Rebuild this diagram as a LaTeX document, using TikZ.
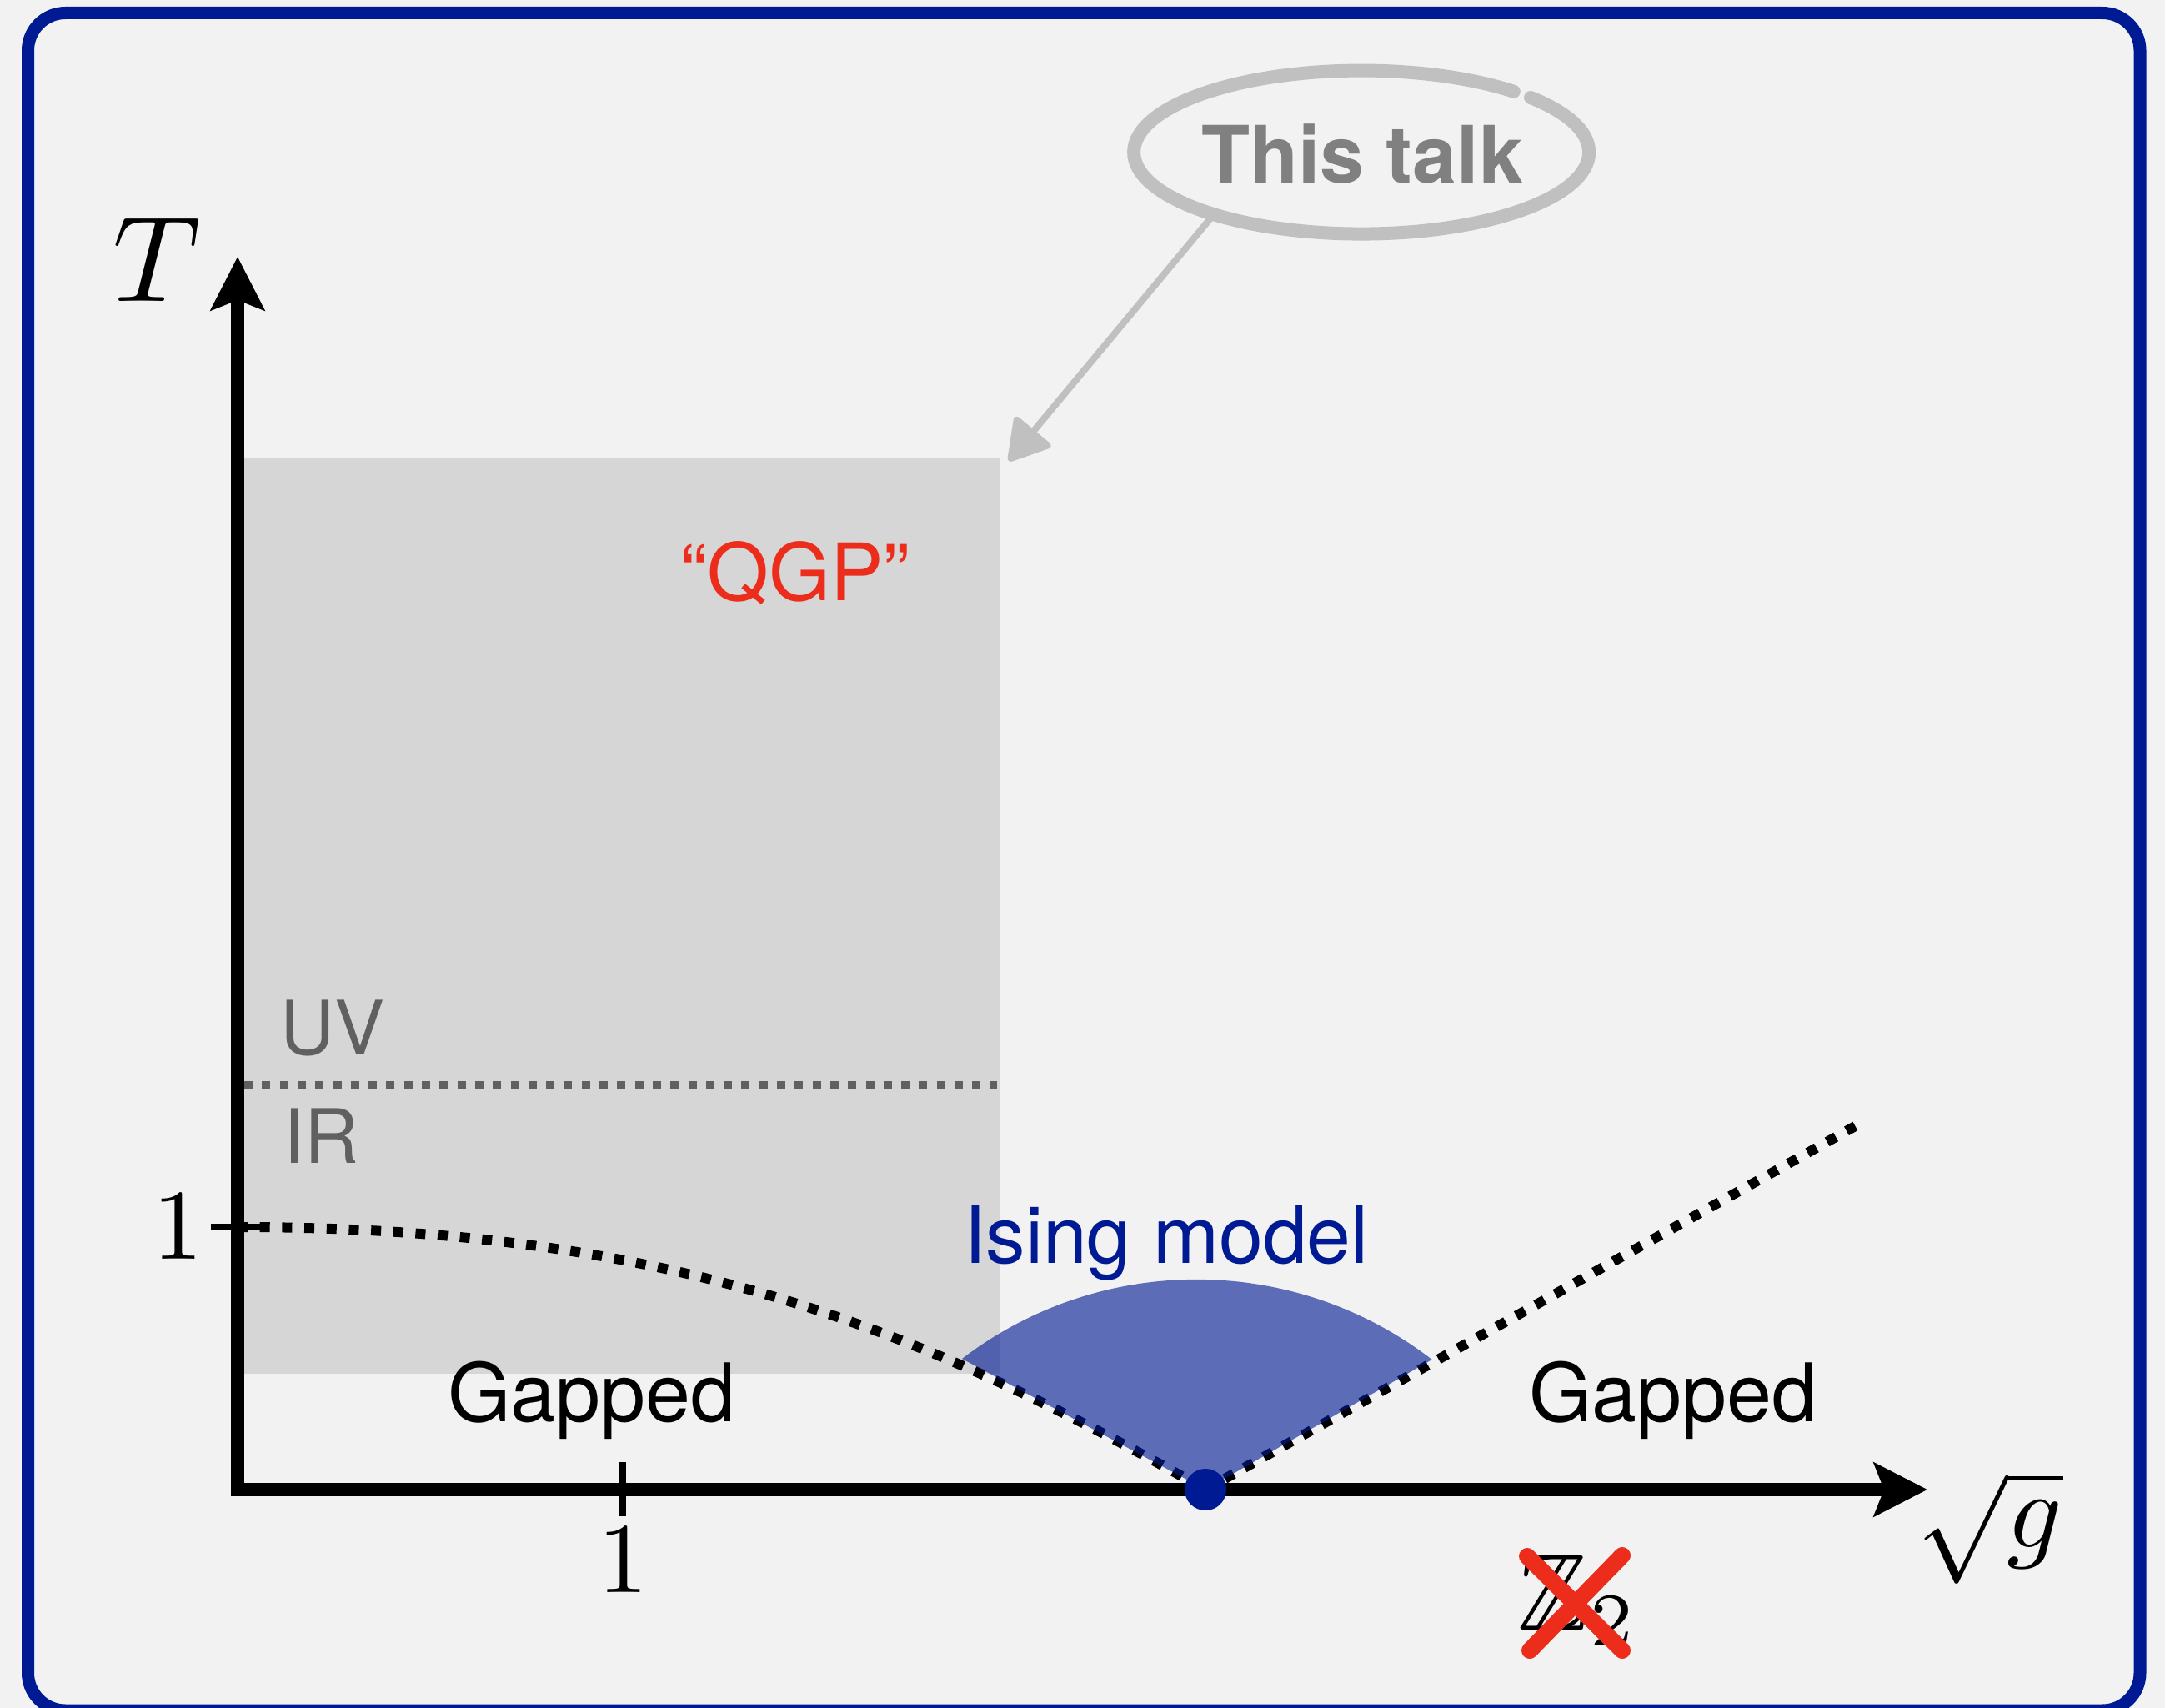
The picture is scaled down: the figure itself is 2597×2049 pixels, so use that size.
\documentclass[tikz,border=0pt]{standalone}
\usepackage{fontspec}
\usepackage{amssymb}
\newfontfamily\hv{TeX Gyre Heros}
\usetikzlibrary{arrows.meta}
\definecolor{bgc}{HTML}{F2F2F2}
\definecolor{borderc}{HTML}{001A94}
\definecolor{boxc}{HTML}{D6D6D6}
\definecolor{uvc}{HTML}{606060}
\definecolor{talktext}{HTML}{808080}
\definecolor{talkline}{HTML}{C0C0C0}
\definecolor{redc}{HTML}{EC2D1B}
\begin{document}
\begin{tikzpicture}[x=1pt,y=-1pt,
  dotline/.style={black, line width=12pt, dash pattern=on 12pt off 14.7pt},
  uvline/.style={uvc, line width=10pt, dash pattern=on 10pt off 11.3pt},
  axisline/.style={black, line width=16pt},
  tickline/.style={black, line width=8pt},
  mathlab/.style={inner sep=0pt, text=black},
  sanslab/.style={inner sep=0pt, font=\hv\fontsize{95}{100}\selectfont},
  bigtip/.tip={Stealth[length=64pt,width=64pt,inset=12pt]},
  crossline/.style={redc, line width=20pt, line cap=round}
]
\useasboundingbox (0,0) rectangle (2597,2049);
\fill[bgc] (0,0) rectangle (2597,2049);
\draw[borderc, line width=15pt, rounded corners=45pt] (33.5,15.5) rectangle (2567,2052);

% coordinates
\coordinate (origin) at (285,1787);
\coordinate (xtip) at (2312,1787);
\coordinate (ytip) at (285,308);
\coordinate (yone) at (285,1472);
\coordinate (apex) at (1446,1787);
\coordinate (rend) at (2236,1345);
\coordinate (uvl) at (293,1302);
\coordinate (uvr) at (1196,1302);
\coordinate (ptr) at (1452,262);
\coordinate (boxne) at (1210,553);

% QGP region
\fill[boxc] (285,549) rectangle (1200,1648);
\draw[uvline] (uvl) -- (uvr);

% phase boundary
\draw[dotline] (yone) .. controls (800,1472) and (1100,1590) .. (apex);
\draw[dotline] (apex) -- (rend);

% Ising fan
\fill[borderc, opacity=0.62] (apex) -- (1154,1630) arc[start angle=232.6, end angle=307.6, radius=463] -- cycle;

% axes
\draw[axisline, bigtip-bigtip] (xtip) -- (origin) -- (ytip);
\draw[tickline] (747,1754) -- (747,1819);
\draw[tickline] (253,1472) -- (315,1472);

\node[circle, fill=borderc, minimum size=50pt, inner sep=0pt] (isingdot) at (apex) {};

% axis labels
\node[mathlab, scale=14.6] (tlab) at (188,312) {$T$};
\node[mathlab, scale=13] (glab) at (2387,1833) {$\sqrt{g}$};
\node[mathlab, scale=12] (xone) at (747,1871) {1};
\node[mathlab, scale=12] (yonelab) at (213,1471) {1};

% texts
\node[sanslab, anchor=base, text=redc] (qgp) at (954,720) {“QGP”};
\node[sanslab, anchor=base west, text=uvc, font=\hv\fontsize{90}{95}\selectfont] (uv) at (336,1265) {UV};
\node[sanslab, anchor=base west, text=uvc, font=\hv\fontsize{90}{95}\selectfont] (ir) at (340,1395) {IR};
\node[sanslab, anchor=base, text=borderc] (ising) at (1399,1515) {Ising model};
\node[sanslab, anchor=base, text=black, font=\hv\fontsize{97}{102}\selectfont] (gapl) at (710,1705) {Gapped};
\node[sanslab, anchor=base, text=black, font=\hv\fontsize{97}{102}\selectfont] (gapr) at (2007,1705) {Gapped};

% This talk
\draw[talkline, line width=16pt, line cap=round] (1836,117) arc[start angle=-42, end angle=312, x radius=273, y radius=98];
\node[sanslab, anchor=base, text=talktext, font=\hv\bfseries\fontsize{95}{100}\selectfont] (talk) at (1634,220) {This talk};
\draw[talkline, line width=8pt, -{Triangle[length=52pt,width=60pt,round]}] (ptr) -- (boxne);

% Z2 crossed
\node[mathlab, anchor=base west, scale=13] (ztwo) at (1818,1955) {$\mathbb{Z}_2$};
\draw[crossline] (1832,1867) -- (1946,1980);
\draw[crossline] (1835,1980) -- (1946,1866);
\end{tikzpicture}
\end{document}
